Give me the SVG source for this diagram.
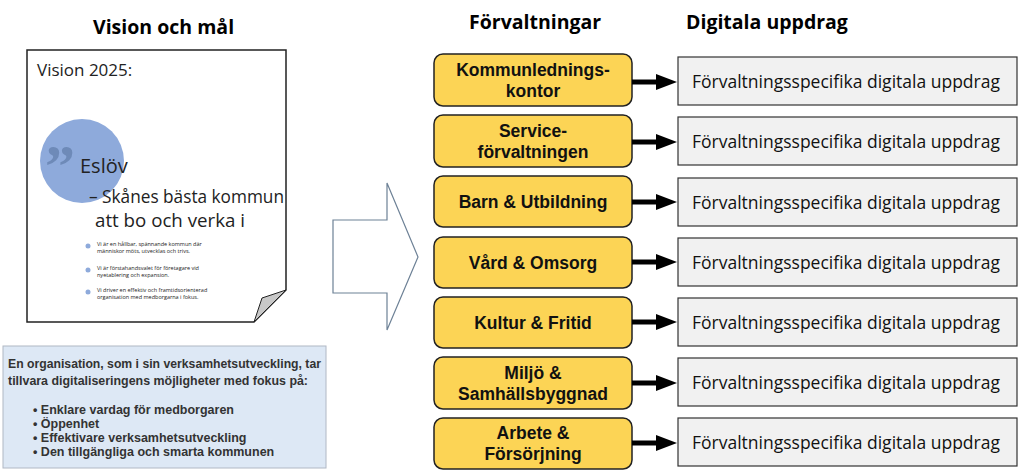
<svg xmlns="http://www.w3.org/2000/svg" width="1022" height="476" viewBox="0 0 1022 476">
<style>
.h{font-family:"Open Sans","Liberation Sans",sans-serif;font-weight:bold;font-size:19.5px;fill:#000}
.y{fill:#fcd455;stroke:#222;stroke-width:1.5}
.yt{font-family:"Liberation Sans",Arial,sans-serif;font-weight:bold;font-size:17.5px;fill:#111;text-anchor:middle}
.g{fill:#f1f1f1;stroke:#333;stroke-width:1.2}
.gt{font-family:"Open Sans","Liberation Sans",sans-serif;font-size:17.5px;fill:#111}
.c{stroke:#000;stroke-width:5}
.pb{font-family:"Open Sans","Liberation Sans",sans-serif;fill:#222}
.bt{font-family:"Liberation Sans",Arial,sans-serif;font-weight:bold;font-size:12.5px;fill:#333}
</style>
<text class="h" x="93" y="34">Vision och mål</text>
<text class="h" x="469" y="29">Förvaltningar</text>
<text class="h" x="686" y="29">Digitala uppdrag</text>
<g id="page">
<path d="M27,50H286V290L254,322H27Z" fill="#fff" stroke="#222" stroke-width="1.5"/>
<path d="M286,290L262,298L254,322Z" fill="#c8c8c8" stroke="#222" stroke-width="1"/>
<text class="pb" x="37" y="76" font-size="17">Vision 2025:</text>
<circle cx="82" cy="161" r="42" fill="#8eaadb"/>
<text x="45" y="186" font-family="Georgia,'Liberation Serif',serif" font-size="60" fill="#6e8ab8" font-weight="bold">”</text>
<text class="pb" x="80" y="173" font-size="20">Eslöv</text>
<text class="pb" x="89" y="203" font-size="18" textLength="195" lengthAdjust="spacingAndGlyphs">– Skånes bästa kommun</text>
<text class="pb" x="95" y="227" font-size="18" textLength="150" lengthAdjust="spacingAndGlyphs">att bo och verka i</text>
<g font-size="5.5">
<circle cx="88" cy="246" r="2.5" fill="#8eaadb"/><text class="pb" x="97" y="246">Vi är en hållbar, spännande kommun där</text><text class="pb" x="97" y="253">människor möts, utvecklas och trivs.</text>
<circle cx="88" cy="270" r="2.5" fill="#8eaadb"/><text class="pb" x="97" y="270">Vi är förstahandsvalet för företagare vid</text><text class="pb" x="97" y="277">nyetablering och expansion.</text>
<circle cx="88" cy="292" r="2.5" fill="#8eaadb"/><text class="pb" x="97" y="292">Vi driver en effektiv och framtidsorienterad</text><text class="pb" x="97" y="299">organisation med medborgarna i fokus.</text>
</g>
</g>
<g id="bigarrow"><path d="M333,220H387V183L418,257L387,330V293H333Z" fill="#fff" stroke="#6d8196" stroke-width="1.2"/></g>
<g id="focus">
<rect x="3" y="346" width="323" height="122" fill="#dde8f5" stroke="#b0b8c4"/>
<text class="bt" x="8" y="368" textLength="313" lengthAdjust="spacingAndGlyphs">En organisation, som i sin verksamhetsutveckling, tar</text>
<text class="bt" x="8" y="385" textLength="300" lengthAdjust="spacingAndGlyphs">tillvara digitaliseringens möjligheter med fokus på:</text>
<text class="bt" x="33" y="414">•  Enklare vardag för medborgaren</text>
<text class="bt" x="33" y="428">•  Öppenhet</text>
<text class="bt" x="33" y="442">•  Effektivare verksamhetsutveckling</text>
<text class="bt" x="33" y="456">•  Den tillgängliga och smarta kommunen</text>
</g>
<g id="n1"><rect class="y" x="434" y="54" width="198" height="52" rx="9"/><text class="yt" x="533" y="76">Kommunlednings-</text><text class="yt" x="533" y="97">kontor</text></g>
<g id="n2"><rect class="y" x="434" y="115" width="198" height="52" rx="9"/><text class="yt" x="533" y="137">Service-</text><text class="yt" x="533" y="158">förvaltningen</text></g>
<g id="n3"><rect class="y" x="434" y="176" width="198" height="51" rx="9"/><text class="yt" x="533" y="208">Barn &amp; Utbildning</text></g>
<g id="n4"><rect class="y" x="434" y="237" width="198" height="51" rx="9"/><text class="yt" x="533" y="269">Vård &amp; Omsorg</text></g>
<g id="n5"><rect class="y" x="434" y="297" width="198" height="51" rx="9"/><text class="yt" x="533" y="329">Kultur &amp; Fritid</text></g>
<g id="n6"><rect class="y" x="434" y="357" width="198" height="52" rx="9"/><text class="yt" x="533" y="379">Miljö &amp;</text><text class="yt" x="533" y="400">Samhällsbyggnad</text></g>
<g id="n7"><rect class="y" x="434" y="418" width="198" height="51" rx="9"/><text class="yt" x="533" y="439">Arbete &amp;</text><text class="yt" x="533" y="460">Försörjning</text></g>
<g id="d1"><rect class="g" x="678" y="57" width="339" height="48"/><text class="gt" x="692" y="88">Förvaltningsspecifika digitala uppdrag</text></g>
<g id="d2"><rect class="g" x="678" y="117" width="339" height="48"/><text class="gt" x="692" y="148">Förvaltningsspecifika digitala uppdrag</text></g>
<g id="d3"><rect class="g" x="678" y="178" width="339" height="48"/><text class="gt" x="692" y="209">Förvaltningsspecifika digitala uppdrag</text></g>
<g id="d4"><rect class="g" x="678" y="238" width="339" height="48"/><text class="gt" x="692" y="269">Förvaltningsspecifika digitala uppdrag</text></g>
<g id="d5"><rect class="g" x="678" y="298" width="339" height="48"/><text class="gt" x="692" y="329">Förvaltningsspecifika digitala uppdrag</text></g>
<g id="d6"><rect class="g" x="678" y="358" width="339" height="48"/><text class="gt" x="692" y="389">Förvaltningsspecifika digitala uppdrag</text></g>
<g id="d7"><rect class="g" x="678" y="418" width="339" height="48"/><text class="gt" x="692" y="449">Förvaltningsspecifika digitala uppdrag</text></g>
<g id="connectors">
<g class="c"><line x1="632" y1="82" x2="660" y2="82"/><line x1="632" y1="142" x2="660" y2="142"/><line x1="632" y1="202" x2="660" y2="202"/><line x1="632" y1="262" x2="660" y2="262"/><line x1="632" y1="322" x2="660" y2="322"/><line x1="632" y1="383" x2="660" y2="383"/><line x1="632" y1="443" x2="660" y2="443"/></g>
<g fill="#000"><path d="M656,74L677,82L656,90Z"/><path d="M656,134L677,142L656,150Z"/><path d="M656,194L677,202L656,210Z"/><path d="M656,254L677,262L656,270Z"/><path d="M656,314L677,322L656,330Z"/><path d="M656,375L677,383L656,391Z"/><path d="M656,435L677,443L656,451Z"/></g>
</g>
</svg>
